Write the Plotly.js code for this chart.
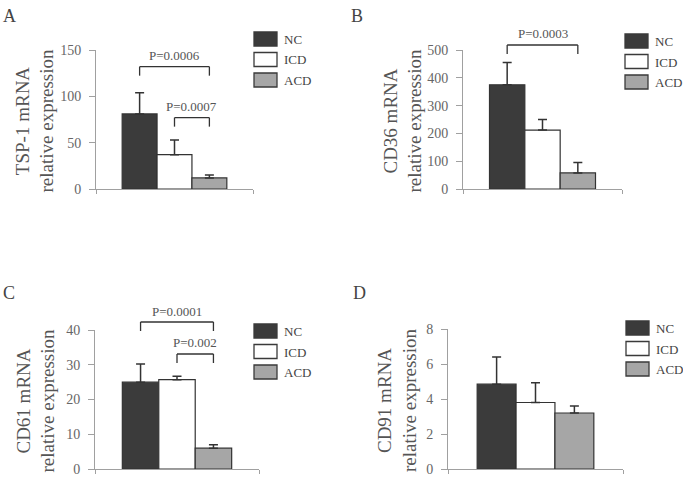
<!DOCTYPE html>
<html><head><meta charset="utf-8">
<script src="https://cdn.plot.ly/plotly-3.0.1.min.js"></script>
<style>body{margin:0;background:#fff}#chart{width:683px;height:477px}</style>
</head><body><div id="chart"></div>
<script>
// ---- data ----
const groups = ["NC", "ICD", "ACD"];
const groupColors = ["#3b3b3b", "#ffffff", "#a6a6a6"];
const panelLetters = ["A", "B", "C", "D"];
const titleLine1 = ["TSP-1 mRNA", "CD36 mRNA", "CD61 mRNA", "CD91 mRNA"];
const titleLine2 = "relative expression";

const tsp1Mean = [81, 37, 12];
const tsp1Err  = [23, 16, 3];
const cd36Mean = [375, 212, 58];
const cd36Err  = [80, 38, 37];
const cd61Mean = [25, 25.7, 6];
const cd61Err  = [5.2, 1.0, 1.0];
const cd91Mean = [4.85, 3.8, 3.2];
const cd91Err  = [1.55, 1.13, 0.4];

const yMax  = [150, 500, 40, 8];
const yStep = [50, 100, 10, 2];

// significance comparisons (group index from/to, bracket level in data units, label)
const tsp1Comp = {from: [0, 1], to: [2, 2], level: [132, 77], p: ["P=0.0006", "P=0.0007"]};
const cd36Comp = {from: [0], to: [2], level: [518], p: ["P=0.0003"]};
const cd61Comp = {from: [0, 1], to: [2, 2], level: [42.3, 33.1], p: ["P=0.0001", "P=0.002"]};
const cd91Comp = {from: [], to: [], level: [], p: []};

const means = [tsp1Mean, cd36Mean, cd61Mean, cd91Mean];
const errs  = [tsp1Err, cd36Err, cd61Err, cd91Err];
const comps = [tsp1Comp, cd36Comp, cd61Comp, cd91Comp];

// ---- layout geometry (pixels) ----
const W = 683, H = 477;
const geo = [
  {x0: 96,  x1: 253, yTop: 50,  yBot: 189, titleOff: 62, letter: [9, 16],   leg: [254, 32]},
  {x0: 463, x1: 622, yTop: 50,  yBot: 189, titleOff: 61, letter: [357, 16], leg: [625, 34]},
  {x0: 95,  x1: 259, yTop: 330, yBot: 469, titleOff: 60, letter: [9, 293],  leg: [254, 324]},
  {x0: 448, x1: 623, yTop: 329, yBot: 469, titleOff: 51, letter: [359, 293], leg: [626, 321]}
];
const XR = [-1.25, 3.25];
const px = v => v / W;
const py = v => 1 - v / H;
const FONT = 'Liberation Serif';
const AXC = '#a0a0a0';

const data = [];
const layout = {
  width: W, height: H,
  margin: {l: 0, r: 0, t: 0, b: 0},
  paper_bgcolor: '#fff', plot_bgcolor: '#fff',
  font: {family: FONT, color: '#444'},
  showlegend: false,
  shapes: [], annotations: []
};

for (let i = 0; i < 4; i++) {
  const s = i === 0 ? '' : String(i + 1);
  const g = geo[i];
  const xs = groups.map((_, k) => k);
  data.push({
    type: 'bar', x: xs, y: means[i], width: 1,
    name: titleLine1[i],
    text: groups, textposition: 'none',
    marker: {color: groupColors, line: {color: '#333', width: 1.2}},
    error_y: {type: 'data', symmetric: false, array: errs[i], arrayminus: [0, 0, 0],
              color: '#333', thickness: 1.5, width: 4.5},
    xaxis: 'x' + s, yaxis: 'y' + s, hoverinfo: 'skip'
  });
  layout['xaxis' + s] = {
    domain: [px(g.x0), px(g.x1)], range: XR, anchor: 'y' + s,
    showline: true, linecolor: AXC, linewidth: 1,
    tickvals: XR, ticks: 'outside', ticklen: 4, tickcolor: AXC,
    showticklabels: false, showgrid: false, zeroline: false, fixedrange: true
  };
  layout['yaxis' + s] = {
    domain: [py(g.yBot), py(g.yTop)], range: [0, yMax[i]], anchor: 'x' + s,
    tick0: 0, dtick: yStep[i], ticks: 'outside', ticklen: 6, tickcolor: AXC,
    showline: true, linecolor: AXC, linewidth: 1,
    tickfont: {family: FONT, size: 14, color: '#666'}, ticklabelstandoff: 5,
    showgrid: false, zeroline: false, fixedrange: true
  };

  // y title
  layout.annotations.push({
    xref: 'paper', yref: 'paper', x: px(g.x0 - g.titleOff), y: py((g.yTop + g.yBot) / 2 + 2),
    xanchor: 'center', yanchor: 'middle', textangle: -90, showarrow: false,
    text: titleLine1[i] + '<br>' + titleLine2, font: {size: 19, color: '#555', family: FONT}
  });
  // panel letter
  layout.annotations.push({
    xref: 'paper', yref: 'paper', x: px(g.letter[0]), y: py(g.letter[1]),
    xanchor: 'center', yanchor: 'middle', showarrow: false,
    text: panelLetters[i], font: {size: 18, color: '#444', family: FONT}
  });
  // legend
  groups.forEach((name, k) => {
    const top = g.leg[1] + k * 20.5;
    layout.shapes.push({
      type: 'rect', xref: 'paper', yref: 'paper',
      x0: px(g.leg[0]), x1: px(g.leg[0] + 23), y0: py(top + 14), y1: py(top),
      fillcolor: groupColors[k], line: {color: '#3a3a3a', width: 1.3}
    });
    layout.annotations.push({
      xref: 'paper', yref: 'paper', x: px(g.leg[0] + 28), y: py(top + 7.5),
      xanchor: 'left', yanchor: 'middle', showarrow: false,
      text: name, font: {size: 13, color: '#444', family: FONT}
    });
  });
  // significance brackets
  const c = comps[i];
  const hpx = g.yBot - g.yTop;
  const leg = 9 / hpx;
  c.p.forEach((lab, k) => {
    const f = c.level[k] / yMax[i];
    const xa = 'x' + s, ya = 'y' + s + ' domain';
    const ln = {color: '#333', width: 1.3};
    layout.shapes.push({type: 'line', xref: xa, yref: ya, x0: c.from[k], x1: c.to[k], y0: f, y1: f, line: ln});
    layout.shapes.push({type: 'line', xref: xa, yref: ya, x0: c.from[k], x1: c.from[k], y0: f, y1: f - leg, line: ln});
    layout.shapes.push({type: 'line', xref: xa, yref: ya, x0: c.to[k], x1: c.to[k], y0: f, y1: f - leg, line: ln});
    layout.annotations.push({
      xref: xa, yref: ya, x: (c.from[k] + c.to[k]) / 2, y: f, yshift: 11,
      xanchor: 'center', yanchor: 'middle', showarrow: false,
      text: lab, font: {size: 13, color: '#555', family: FONT}
    });
  });
}

Plotly.newPlot('chart', data, layout, {staticPlot: true, displayModeBar: false});
</script>
</body></html>
